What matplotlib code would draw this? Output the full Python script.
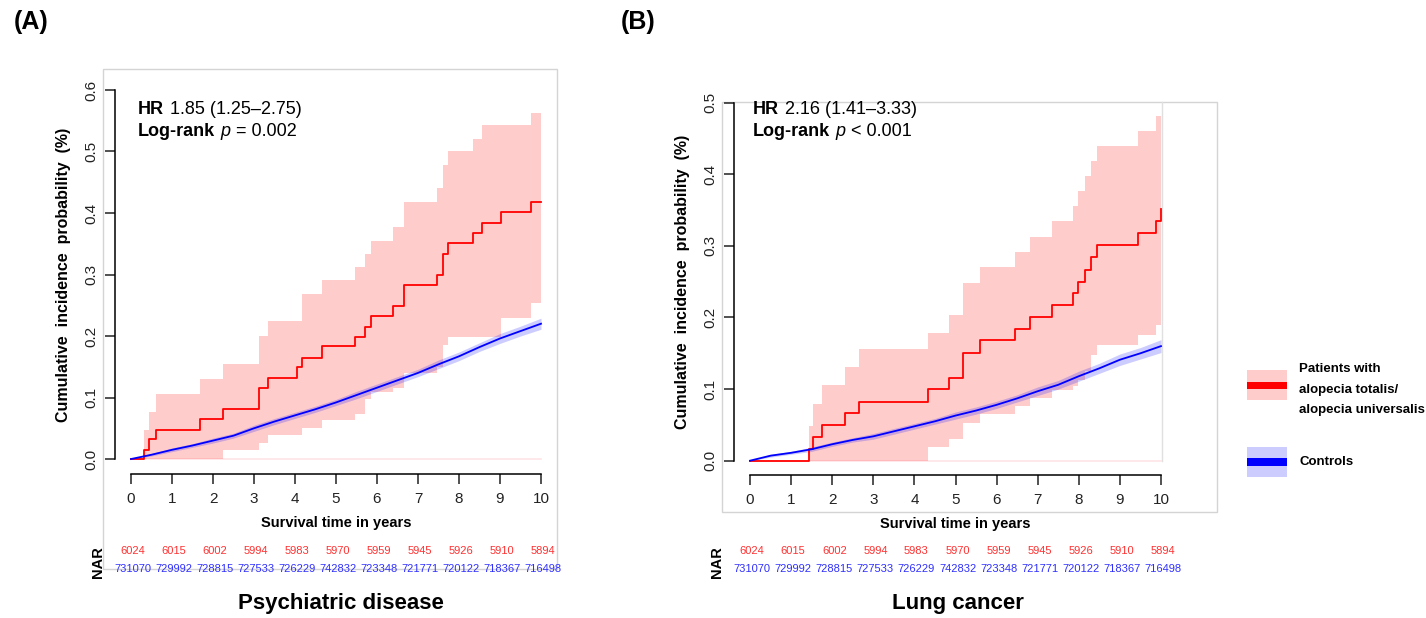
import matplotlib
matplotlib.use("Agg")
import matplotlib.pyplot as plt
from matplotlib.patches import Rectangle
from matplotlib import transforms

plt.rcParams['font.family'] = ['Liberation Sans', 'DejaVu Sans']

W, H = 1426, 618

# ---------------- data ----------------
years = list(range(0, 11))
nar_cases = [6024, 6015, 6002, 5994, 5983, 5970, 5959, 5945, 5926, 5910, 5894]
nar_controls = [731070, 729992, 728815, 727533, 726229, 742832, 723348, 721771, 720122, 718367, 716498]

# Panel A: psychiatric disease (cases, step function)
a_time = [0, 0.32, 0.45, 0.61, 1.68, 2.25, 3.12, 3.35, 4.04, 4.16, 4.67, 5.46, 5.71, 5.85,
          6.38, 6.66, 7.46, 7.62, 7.72, 8.33, 8.57, 9.02, 9.75, 10.0]
a_est = [0, 0.015, 0.032, 0.048, 0.065, 0.081, 0.115, 0.132, 0.149, 0.165, 0.183, 0.199, 0.215, 0.233,
         0.249, 0.283, 0.299, 0.334, 0.351, 0.367, 0.384, 0.401, 0.418, 0.418]
a_upper = [0, 0.048, 0.077, 0.105, 0.130, 0.154, 0.200, 0.225, 0.225, 0.268, 0.291, 0.313, 0.334, 0.355,
           0.377, 0.418, 0.440, 0.478, 0.501, 0.520, 0.543, 0.543, 0.562, 0.583]
a_lower = [0, 0, 0, 0, 0, 0.015, 0.026, 0.039, 0.039, 0.050, 0.063, 0.074, 0.097, 0.109,
           0.115, 0.140, 0.150, 0.185, 0.199, 0.199, 0.199, 0.229, 0.254, 0.254]
# Panel A controls
a_ctrl_t = [0, 0.5, 1, 1.5, 2, 2.5, 3, 3.5, 4, 4.5, 5, 5.5, 6, 6.5, 7, 7.5, 8, 8.5, 9, 9.5, 10]
a_ctrl = [0, 0.007, 0.015, 0.022, 0.030, 0.038, 0.050, 0.061, 0.071, 0.081, 0.092, 0.104, 0.116,
          0.128, 0.140, 0.154, 0.167, 0.182, 0.196, 0.208, 0.220]
a_ctrl_lo = [0, 0.005, 0.012, 0.019, 0.026, 0.034, 0.045, 0.056, 0.066, 0.076, 0.087, 0.098, 0.110,
             0.122, 0.134, 0.147, 0.160, 0.175, 0.188, 0.200, 0.211]
a_ctrl_hi = [0, 0.009, 0.018, 0.025, 0.034, 0.042, 0.055, 0.066, 0.076, 0.086, 0.097, 0.110, 0.122,
             0.134, 0.146, 0.161, 0.174, 0.189, 0.204, 0.216, 0.229]

# Panel B: lung cancer (cases, step function)
b_time = [0, 1.44, 1.54, 1.74, 2.30, 2.66, 4.34, 4.84, 5.19, 5.60, 6.46, 6.81, 7.34, 7.87,
          7.97, 8.15, 8.30, 8.45, 9.45, 9.88, 10.0]
b_est = [0, 0.016, 0.033, 0.050, 0.066, 0.082, 0.100, 0.116, 0.150, 0.168, 0.184, 0.200, 0.217, 0.234,
         0.250, 0.267, 0.284, 0.301, 0.318, 0.335, 0.352]
b_upper = [0, 0.048, 0.079, 0.106, 0.131, 0.156, 0.179, 0.203, 0.248, 0.270, 0.291, 0.313, 0.335, 0.356,
           0.377, 0.398, 0.419, 0.440, 0.460, 0.481, 0.481]
b_lower = [0, 0, 0, 0, 0, 0, 0.019, 0.030, 0.052, 0.065, 0.076, 0.087, 0.099, 0.105,
           0.112, 0.125, 0.148, 0.162, 0.176, 0.190, 0.190]
# Panel B controls
b_ctrl_t = [0, 0.5, 1, 1.5, 2, 2.5, 3, 3.5, 4, 4.5, 5, 5.5, 6, 6.5, 7, 7.5, 8, 8.5, 9, 9.5, 10]
b_ctrl = [0, 0.007, 0.011, 0.016, 0.023, 0.029, 0.034, 0.041, 0.048, 0.055, 0.063, 0.070, 0.078,
          0.087, 0.097, 0.106, 0.118, 0.129, 0.141, 0.150, 0.160]
b_ctrl_lo = [0, 0.005, 0.009, 0.013, 0.020, 0.026, 0.030, 0.037, 0.044, 0.051, 0.058, 0.065, 0.073,
             0.082, 0.091, 0.100, 0.111, 0.122, 0.133, 0.142, 0.151]
b_ctrl_hi = [0, 0.009, 0.013, 0.019, 0.026, 0.032, 0.038, 0.045, 0.052, 0.059, 0.068, 0.075, 0.083,
             0.092, 0.103, 0.112, 0.125, 0.136, 0.149, 0.158, 0.169]

RED = '#ff0000'
BLUE = '#0000ff'

fig = plt.figure(figsize=(W / 100, H / 100), dpi=100)


def px_axes(left, top, right, bottom):
    return fig.add_axes([left / W, 1 - bottom / H, (right - left) / W, (bottom - top) / H])


# overlay in pixel coordinates
ov = fig.add_axes([0, 0, 1, 1], zorder=-5)
ov.set_xlim(0, W)
ov.set_ylim(H, 0)
ov.axis('off')
for (x0, y0, x1, y1) in [(103, 69, 557, 569), (722, 102, 1217, 512)]:
    ov.add_patch(Rectangle((x0, y0), x1 - x0, y1 - y0, fill=False, ec='#d4d4d4', lw=1))
ov.plot([1161.5, 1161.5], [102, 461], color='#e0e0e0', lw=1)


def draw_panel(ax, t, est, lo, hi, ct, c, clo, chi, ymax, yticks):
    ax.plot([0, 10], [0, 0], color='#ffe4e6', lw=1.2, zorder=1)
    ax.fill_between(t, lo, hi, step='post', color=RED, alpha=0.2, lw=0, zorder=2)
    ax.fill_between(ct, clo, chi, color=BLUE, alpha=0.2, lw=0, zorder=3)
    ax.step(t, est, where='post', color=RED, lw=1.3, zorder=4)
    ax.plot(ct, c, color=BLUE, lw=1.3, zorder=5)
    ax.set_xlim(-0.4, 10.4)
    ax.set_ylim(-0.04 * ymax, 1.04 * ymax)
    ax.set_xticks(years)
    ax.set_yticks(yticks)
    ax.set_yticklabels([f'{v:.1f}' for v in yticks], rotation=90, va='center')
    for s in ['top', 'right']:
        ax.spines[s].set_visible(False)
    ax.spines['left'].set_bounds(0, ymax)
    ax.spines['bottom'].set_bounds(0, 10)
    ax.spines['left'].set_linewidth(1.1)
    ax.spines['bottom'].set_linewidth(1.1)
    ax.tick_params(axis='both', length=7, width=1.1, labelsize=11, colors='#222222')
    ax.tick_params(axis='x', pad=6)
    ax.tick_params(axis='y', pad=5)
    ax.patch.set_alpha(0)
    ax.set_xlabel('Survival time in years', fontsize=10.5, fontweight='bold', labelpad=7)
    ax.set_ylabel('Cumulative  incidence  probability  (%)', fontsize=11.5, fontweight='bold',
                  labelpad=9)


axA = px_axes(114.6, 75.2, 557.4, 473.8)
draw_panel(axA, a_time, a_est, a_lower, a_upper, a_ctrl_t, a_ctrl, a_ctrl_lo, a_ctrl_hi, 0.6,
           [0.0, 0.1, 0.2, 0.3, 0.4, 0.5, 0.6])
axB = px_axes(733.6, 88.4, 1177.4, 475.0)
draw_panel(axB, b_time, b_est, b_lower, b_upper, b_ctrl_t, b_ctrl, b_ctrl_lo, b_ctrl_hi, 0.5,
           [0.0, 0.1, 0.2, 0.3, 0.4, 0.5])

renderer = fig.canvas.get_renderer()


def rich(x, y, parts, size=13):
    cx = x
    for s, w, st in parts:
        if s == ' ':
            cx += size * 0.3 * 100 / 72
            continue
        tx = fig.text(cx / W, 1 - y / H, s, fontsize=size, fontweight=w, fontstyle=st,
                      va='center', ha='left', color='black')
        cx += tx.get_window_extent(renderer).width


rich(138, 109, [('HR', 'bold', 'normal'), (' ', None, None), ('1.85 (1.25–2.75)', 'normal', 'normal')])
rich(138, 132, [('Log-rank', 'bold', 'normal'), (' ', None, None), ('p', 'normal', 'italic'),
                (' ', None, None), ('= 0.002', 'normal', 'normal')])
rich(753, 109, [('HR', 'bold', 'normal'), (' ', None, None), ('2.16 (1.41–3.33)', 'normal', 'normal')])
rich(753, 132, [('Log-rank', 'bold', 'normal'), (' ', None, None), ('p', 'normal', 'italic'),
                (' ', None, None), ('< 0.001', 'normal', 'normal')])

# NAR rows
for ax, narx in [(axA, 98), (axB, 717)]:
    tr = transforms.blended_transform_factory(ax.transData, fig.transFigure)
    for yr, n1, n2 in zip(years, nar_cases, nar_controls):
        ax.text(yr + 0.05, 1 - 551.5 / H, str(n1), transform=tr, ha='center', va='center',
                fontsize=8, color='#ff3030', clip_on=False)
        ax.text(yr + 0.05, 1 - 569.5 / H, str(n2), transform=tr, ha='center', va='center',
                fontsize=8, color='#3030ff', clip_on=False)
    fig.text(narx / W, 1 - 562 / H, 'NAR', rotation=90, ha='center', va='center',
             fontsize=10.5, fontweight='bold')

# Titles and panel letters
fig.text(341 / W, 1 - 604 / H, 'Psychiatric disease', ha='center', va='center', fontsize=16, fontweight='bold')
fig.text(958 / W, 1 - 604 / H, 'Lung cancer', ha='center', va='center', fontsize=16, fontweight='bold')
fig.text(14 / W, 1 - 22 / H, '(A)', ha='left', va='center', fontsize=18, fontweight='bold')
fig.text(621 / W, 1 - 22 / H, '(B)', ha='left', va='center', fontsize=18, fontweight='bold')

# Legend
ov.add_patch(Rectangle((1247, 370), 40, 30, color=RED, alpha=0.2, lw=0))
ov.add_patch(Rectangle((1247, 381.5), 40, 7.5, color=RED, lw=0))
ov.add_patch(Rectangle((1247, 447), 40, 30, color=BLUE, alpha=0.2, lw=0))
ov.add_patch(Rectangle((1247, 458), 40, 8, color=BLUE, lw=0))
for yy, s in [(369, 'Patients with'), (390, 'alopecia totalis/'), (410, 'alopecia universalis'), (462, 'Controls')]:
    ov.text(1299, yy, s, ha='left', va='center', fontsize=9.5, fontweight='bold')

fig.savefig('out.png', dpi=100)
